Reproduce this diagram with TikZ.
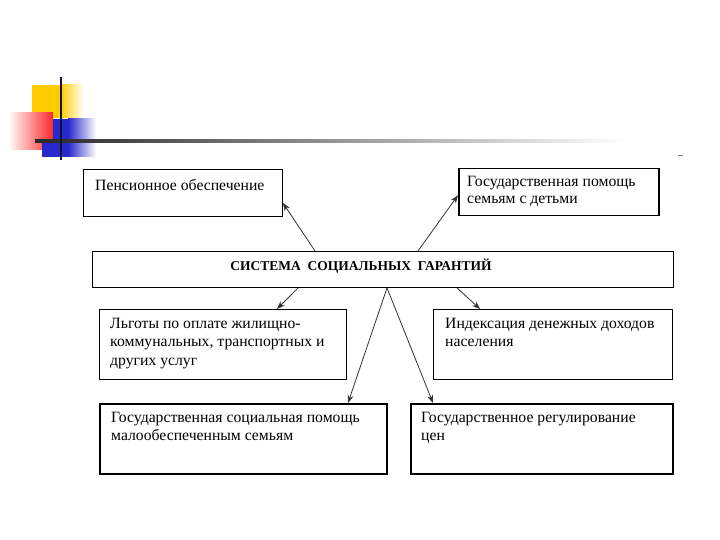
\documentclass[tikz,border=0pt]{standalone}
\usepackage{fontspec}
\setmainfont{Liberation Serif}
\usepackage{tikz}
\usetikzlibrary{
  arrows.meta,
  positioning,
  calc
}
\definecolor{ppyellow}{RGB}{255,204,0}
\definecolor{ppred}{RGB}{250,40,40}
\definecolor{ppblue}{RGB}{40,40,205}
\definecolor{ppnavy}{RGB}{20,20,50}
\definecolor{arrowgray}{RGB}{50,50,50}

\tikzset{
  thinbox/.style={draw=black, line width=0.9pt, fill=white, anchor=north west, inner sep=0pt},
  thickbox/.style={draw=black, line width=1.5pt, fill=white, anchor=north west, inner sep=0pt},
  boxtext/.style={anchor=base west, inner sep=0pt, align=left, font=\fontsize{15.7}{18.8}\selectfont},
  arr/.style={draw=arrowgray, line width=0.8pt, -{Stealth[length=8pt, width=6pt]}}
}

\begin{document}
\begin{tikzpicture}[x=1pt, y=-1pt]
            \useasboundingbox (0,0) rectangle (720,540);

            % title decoration
            \fill[ppyellow] (32,85) rectangle (60,118);
            \shade[left color=ppyellow, right color=white] (60,85) rectangle (84,118);
            \shade[left color=white, right color=ppred] (8,113) rectangle (53,150);
            \fill[ppblue] (53,119) rectangle (68,157);
            \fill[ppblue] (42,141) rectangle (53,157);
            \shade[left color=ppblue, right color=white] (68,119) rectangle (96,157);
            \shade[left color=black!85, right color=white] (35,139.8) rectangle (625,142.2);
            \draw[ppnavy, line width=2.5pt] (61,77) -- (61,160);
            \draw[gray, line width=1pt] (678,156) -- (683,156);

            % boxes (text anchored at the baseline of its last line)
            \node[thinbox, minimum width=199pt, minimum height=47pt] (pension) at (83,169) {};
            \node[boxtext] (pensiontxt) at (95,191) {Пенсионное обеспечение};

            \node[thickbox, minimum width=200pt, minimum height=47pt] (family) at (458,168) {};
            \node[boxtext, font=\fontsize{15.7}{17}\selectfont] (familytxt) at (467,204) {Государственная помощь\\семьям с детьми};

            \node[thinbox, minimum width=581pt, minimum height=36pt] (central) at (92,251) {};
            \node[font=\fontsize{13.5}{16}\bfseries\selectfont, inner sep=0pt] (centraltxt) at (361,266) {СИСТЕМА\ \ СОЦИАЛЬНЫХ\ \ ГАРАНТИЙ};

            \node[thinbox, minimum width=247pt, minimum height=70pt] (lgoty) at (99,309) {};
            \node[boxtext] (lgotytxt) at (110,365.6) {Льготы по оплате жилищно-\\коммунальных, транспортных и\\других услуг};

            \node[thinbox, minimum width=239pt, minimum height=70pt] (index) at (433,309) {};
            \node[boxtext] (indextxt) at (445,346.8) {Индексация денежных доходов\\населения};

            \node[thickbox, minimum width=287pt, minimum height=70pt] (gossoc) at (99,403) {};
            \node[boxtext] (gossoctxt) at (111,440.8) {Государственная социальная помощь\\малообеспеченным семьям};

            \node[thickbox, minimum width=262pt, minimum height=70pt] (regul) at (410,403) {};
            \node[boxtext] (regultxt) at (421,440.8) {Государственное регулирование\\цен};

            % arrows
            \draw[arr] ([xshift=223pt]central.north west) -- ([yshift=-10pt]pension.east);
            \draw[arr] ([xshift=326pt]central.north west) -- ([yshift=-3pt]family.west);
            \draw[arr] ([xshift=206pt]central.south west) -- ([xshift=178pt]lgoty.north west);
            \draw[arr] ([xshift=365pt]central.south west) -- ([xshift=47pt]index.north west);
            \draw[arr] ([xshift=295pt]central.south west) -- ([xshift=249pt]gossoc.north west);
            \draw[arr] ([xshift=295pt]central.south west) -- ([xshift=23pt]regul.north west);
        \end{tikzpicture}
\end{document}
